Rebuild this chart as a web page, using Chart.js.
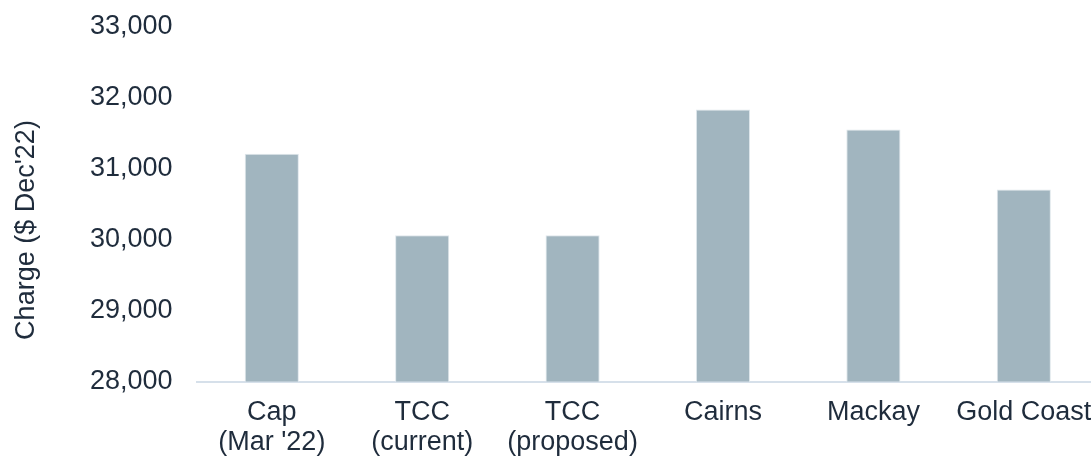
<!DOCTYPE html>
<html>
<head>
<meta charset="utf-8">
<script src="https://cdn.jsdelivr.net/npm/chart.js@4"></script>
<style>
  html, body { margin: 0; padding: 0; background: #fff; overflow: hidden; }
  #wrap { width: 1099px; height: 456px; }
</style>
</head>
<body>
<div id="wrap"><canvas id="chart-01" width="1099" height="456"></canvas></div>
<script>
// categories and values
const categories = [
    ['Cap', "(Mar '22)"],
    ['TCC', '(current)'],
    ['TCC', '(proposed)'],
    'Cairns',
    'Mackay',
    'Gold Coast'
];
const charges = [31210, 30060, 30060, 31830, 31550, 30705];
const yTicks = [28000, 29000, 30000, 31000, 32000, 33000];
const yTitle = "Charge ($ Dec'22)";

const textColor = '#1f2c3c';
const font = { family: '"Liberation Sans", Arial, sans-serif', size: 27, lineHeight: 1.1 };

// y title is centred on the whole chart height, not the plot, so draw it here
const sideTitle = {
    id: 'sideTitle',
    afterDraw(chart) {
        const c = chart.ctx;
        c.save();
        c.translate(27, chart.height / 2 + 2);
        c.rotate(-Math.PI / 2);
        c.fillStyle = textColor;
        c.font = '27px "Liberation Sans", Arial, sans-serif';
        c.textAlign = 'center';
        c.textBaseline = 'middle';
        c.fillText(yTitle, 0, 0);
        c.restore();
    }
};

const ctx = document.getElementById('chart-01').getContext('2d');

const myChart = new Chart(ctx, {
    type: 'bar',
    data: {
        labels: categories,
        datasets: [{
            label: 'Charge',
            data: charges,
            backgroundColor: '#a1b5bf',
            borderColor: '#dfe7ec',
            borderWidth: 1,
            categoryPercentage: 1,
            barPercentage: 0.36
        }]
    },
    plugins: [sideTitle],
    options: {
        responsive: false,
        animation: false,
        layout: {
            padding: { top: 0, right: 0, bottom: -17, left: 66 }
        },
        plugins: {
            legend: { display: false },
            tooltip: { enabled: false }
        },
        scales: {
            x: {
                grid: { display: false, drawTicks: false },
                border: { display: true, color: '#d6e0ea', width: 2 },
                ticks: { color: textColor, font: font, padding: 16, maxRotation: 0, autoSkip: false },
                afterFit: (axis) => { axis.paddingLeft = 0; axis.paddingRight = 0; }
            },
            y: {
                min: yTicks[0],
                max: yTicks[yTicks.length - 1],
                afterBuildTicks: (axis) => { axis.ticks = yTicks.map(v => ({ value: v })); },
                afterFit: (axis) => { axis.paddingTop = 26.5; axis.paddingBottom = 0; },
                grid: { display: false, drawTicks: false },
                border: { display: false },
                ticks: { color: textColor, font: font, padding: 24 }
            }
        }
    }
});
</script>
</body>
</html>
